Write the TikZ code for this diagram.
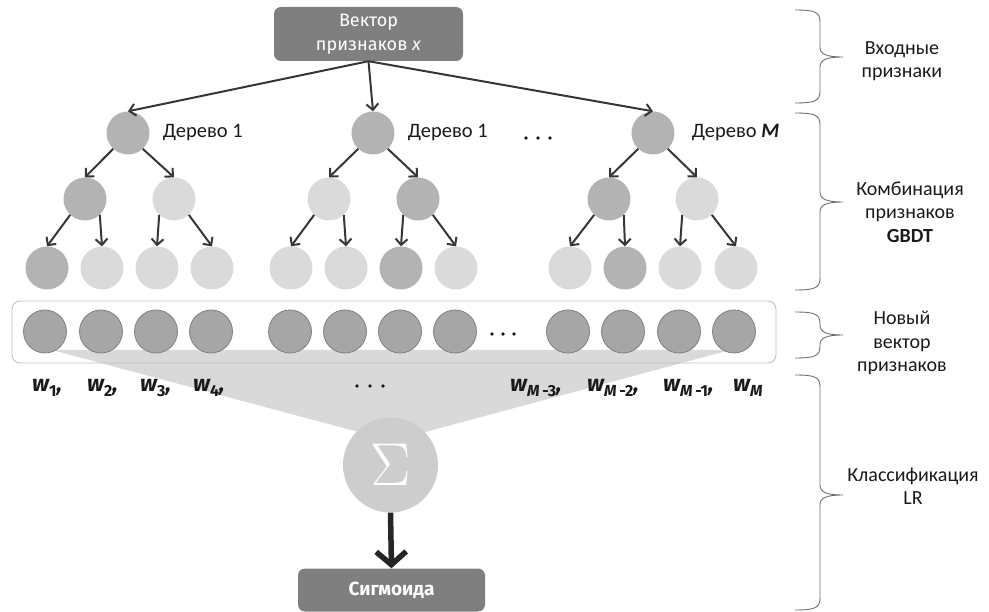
\documentclass[tikz,border=0pt]{standalone}
\usepackage{fontspec}
\setmainfont{Carlito}
\newfontfamily\fira{Fira Sans}
\usetikzlibrary{arrows.meta}

\definecolor{boxgray}{HTML}{7F7F7F}
\definecolor{nodedark}{HTML}{B3B3B3}
\definecolor{nodelight}{HTML}{DADADA}
\definecolor{rowfill}{HTML}{A6A6A6}
\definecolor{rowline}{HTML}{808080}
\definecolor{fangray}{HTML}{D9D9D9}
\definecolor{sumgray}{HTML}{CDCDCD}
\definecolor{arrowdark}{HTML}{363636}
\definecolor{thickdark}{HTML}{262626}
\definecolor{bracegray}{HTML}{6E6E6E}
\definecolor{framegray}{HTML}{BFBFBF}
\definecolor{labelink}{HTML}{1A1A1A}

% subscript for the weight labels
\newcommand\wsub[1]{\raisebox{-5pt}{\fontsize{16}{16}\selectfont #1}}
% curly brace on the right-hand side: top, middle, bottom
\newcommand\sidebrace[3]{%
  \draw[bracepen] (795,#1) .. controls (815,#1) and (820,{#1+2}) .. (820,{#1+12})
    -- (820,{#2-10}) .. controls (820,{#2-3}) and (826,#2) .. (843,#2)
    .. controls (826,#2) and (820,{#2+3}) .. (820,{#2+10})
    -- (820,{#3-12}) .. controls (820,{#3-2}) and (815,#3) .. (795,#3);}

\begin{document}
\begin{tikzpicture}[
  x=1pt, y=-1pt,
  hdrbox/.style={fill=boxgray, rounded corners=7pt, text=white, align=center,
    font=\fira\fontsize{18}{24}\selectfont, minimum width=189pt, inner sep=0},
  tdark/.style={circle, fill=nodedark, minimum size=43pt, inner sep=0},
  tlight/.style={circle, fill=nodelight, minimum size=43pt, inner sep=0},
  feat/.style={circle, fill=rowfill, draw=rowline, line width=0.8pt, minimum size=43pt, inner sep=0},
  edge/.style={draw=arrowdark, line width=2pt, -{Straight Barb[length=6pt,width=12pt]}},
  treelbl/.style={font=\fontsize{20.5}{24}\selectfont, text=labelink, anchor=west, inner sep=0},
  wlbl/.style={font=\fira\bfseries\itshape\fontsize{23}{26}\selectfont, text=labelink, anchor=base west, inner sep=0},
  sidelbl/.style={font=\fontsize{20}{23.5}\selectfont, text=labelink, align=center},
  bracepen/.style={draw=bracegray, line width=0.9pt},
  dot/.style={fill=labelink}
]
\useasboundingbox (0,0) rectangle (989,612);

% input vector
\node[hdrbox, minimum height=54pt] (vec) at (368.5,34) {Вектор\\признаков \textit{x}};

% tree 1
\node[tdark]  (t1r)  at (128,133) {};
\node[tdark]  (t1a)  at (85,199) {};
\node[tlight] (t1b)  at (174,199) {};
\node[tdark]  (t1a1) at (47,268) {};
\node[tlight] (t1a2) at (102,268) {};
\node[tlight] (t1b1) at (157,268) {};
\node[tlight] (t1b2) at (212,268) {};
% tree 2
\node[tdark]  (t2r)  at (373,133) {};
\node[tlight] (t2a)  at (329,199) {};
\node[tdark]  (t2b)  at (418,199) {};
\node[tlight] (t2a1) at (291,268) {};
\node[tlight] (t2a2) at (346,268) {};
\node[tdark]  (t2b1) at (401,268) {};
\node[tlight] (t2b2) at (456,268) {};
% tree M
\node[tdark]  (t3r)  at (653,133) {};
\node[tdark]  (t3a)  at (609,199) {};
\node[tlight] (t3b)  at (697,199) {};
\node[tlight] (t3a1) at (570,268) {};
\node[tdark]  (t3a2) at (625,268) {};
\node[tlight] (t3b1) at (680,268) {};
\node[tlight] (t3b2) at (736,268) {};

\foreach \t in {t1,t2,t3}{
  \draw[edge] (vec.south) -- (\t r.north);
  \draw[edge] (\t r.-133) -- (\t a.north);
  \draw[edge] (\t r.-47) -- (\t b.north);
  \draw[edge] (\t a.-133) -- (\t a1.north);
  \draw[edge] (\t a.-47) -- (\t a2.north);
  \draw[edge] (\t b.-133) -- (\t b1.north);
  \draw[edge] (\t b.-47) -- (\t b2.north);
}

\node[treelbl] (l1) at ([xshift=13pt]t1r.east) {Дерево 1};
\node[treelbl] (l2) at ([xshift=13pt]t2r.east) {Дерево 1};
\node[treelbl] (l3) at ([xshift=17pt]t3r.east) {Дерево \textbf{\textit{M}}};
\foreach \x in {526,538,550} \fill[dot] (\x,138) circle (1.8);

% weighted sum fan
\fill[fangray] (52,350) -- (730,350) -- (392,441) -- cycle;

% new feature vector
\node[draw=framegray, line width=0.9pt, rounded corners=8pt, minimum width=764pt, minimum height=62pt] (frame) at (394,332) {};
\foreach \x [count=\i] in {45,101,156,211,290,345,400,455,568,623,679,734}
  \node[feat] (f\i) at (\x,331.5) {};
\foreach \x in {492,503,514} \fill[dot] (\x,334) circle (1.8);

% weights
\node[wlbl] (w1) at (32,392) {w\wsub{\upshape 1},};
\node[wlbl] (w2) at (87,392) {w\wsub{\upshape 2},};
\node[wlbl] (w3) at (140,392) {w\wsub{\upshape 3},};
\node[wlbl] (w4) at (193,392) {w\wsub{\upshape 4},};
\foreach \x in {357,370,383} \fill[dot] (\x,386) circle (1.8);
\node[wlbl] (wm3) at (510,392) {w\wsub{M\upshape\,-3},};
\node[wlbl] (wm2) at (587,392) {w\wsub{M\upshape\,-2},};
\node[wlbl] (wm1) at (663,392) {w\wsub{M\upshape\,-1},};
\node[wlbl] (wm)  at (733,392) {w\wsub{M}};

% sum and sigmoid
\node[circle, fill=sumgray, minimum size=95pt, inner sep=0] (sum) at (390.5,465)
  {\color{white}\fontsize{17}{20}\selectfont\scalebox{3.5}{$\Sigma$}};
\node[hdrbox, minimum width=187pt, minimum height=43pt, font=\fira\bfseries\fontsize{19}{22}\selectfont]
  (sig) at (391.5,590) {Сигмоида};
\draw[draw=thickdark, line width=5.5pt, -{Straight Barb[length=13pt,width=30pt]}] (sum.south) -- (sig.north);

% stage braces and captions
\sidebrace{10}{57}{103}
\sidebrace{113}{202}{290}
\sidebrace{312}{335}{358}
\sidebrace{375}{495}{610}
\node[sidelbl] (c1) at (902,61) {Входные\\признаки};
\node[sidelbl] (c2) at (910,212) {Комбинация\\признаков\\\textbf{GBDT}};
\node[sidelbl] (c3) at (902,343) {Новый\\вектор\\признаков};
\node[sidelbl] (c4) at (913,486) {Классификация\\LR};
\end{tikzpicture}
\end{document}
